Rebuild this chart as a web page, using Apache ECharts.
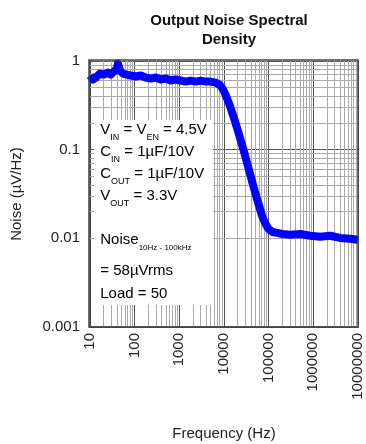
<!DOCTYPE html>
<html><head><meta charset="utf-8">
<script src="https://cdn.jsdelivr.net/npm/echarts@6/dist/echarts.min.js"></script>
<style>html,body{margin:0;padding:0;background:#fff}#c{width:366px;height:444px}</style>
</head><body><div id="c"></div>
<script>
const freqHz = [10,11.7,13.6,16.7,20.5,25.2,29.4,34.3,40,42.1,46.7,54.5,66.8,82.2,106,137,177,230,297,384,496,641,829,1072,1384,1790,2313,2991,3870,5000,6470,7940,9270,10800,13300,16300,21100,27200,35200,43300,53100,61900,72300,84400,98400,121000,156000,202000,305000,509000,851000,1420000,2380000,3970000,6640000,10000000];
const noiseUVrtHz = [0.686,0.618,0.651,0.722,0.703,0.741,0.703,0.761,0.823,0.937,0.781,0.722,0.703,0.686,0.668,0.686,0.651,0.634,0.651,0.618,0.634,0.602,0.618,0.602,0.586,0.602,0.586,0.602,0.586,0.586,0.571,0.542,0.489,0.418,0.322,0.236,0.156,0.100,0.0626,0.0424,0.0294,0.0227,0.0175,0.0146,0.0128,0.0118,0.0115,0.0112,0.0110,0.0112,0.0107,0.0104,0.0107,0.0101,0.00987,0.00963];
const xTickLabels = ['10','100','1000','10000','100000','1000000','10000000'];
const yTickLabels = ['0.001','0.01','0.1','1'];
const xMinorGrid = [20,30,40,50,60,70,80,90,200,300,400,500,600,700,800,900,2000,3000,4000,5000,6000,7000,8000,9000,20000,30000,40000,50000,60000,70000,80000,90000,200000,300000,400000,500000,600000,700000,800000,900000,2000000,3000000,4000000,5000000,6000000,7000000,8000000,9000000];
const yMinorGrid = [0.002,0.003,0.004,0.005,0.006,0.007,0.008,0.009,0.02,0.03,0.04,0.05,0.06,0.07,0.08,0.09,0.2,0.3,0.4,0.5,0.6,0.7,0.8,0.9];

const chart = echarts.init(document.getElementById('c'));
const FONT = 'Liberation Sans, Arial, sans-serif';
const N = {fontSize:15, fontFamily:FONT, color:'#111', verticalAlign:'top', lineHeight:16};
const S = {fontSize:9, fontFamily:FONT, color:'#333', verticalAlign:'bottom', lineHeight:15};
const S2 = {fontSize:8, fontFamily:FONT, color:'#777', verticalAlign:'bottom', lineHeight:15};
const H = {fontSize:1, lineHeight:20, verticalAlign:'top'};
function txt(y, s){ return {type:'text', left:100, top:y, z:101, style:{text:'{h| }'+s, rich:{n:N,s:S,t:S2,h:H}, font:'15px '+FONT}}; }
chart.setOption({
  animation:false,
  title:{text:'Output Noise Spectral\nDensity', left:224, top:6, textAlign:'center',
    textStyle:{fontSize:15, fontWeight:'bold', fontFamily:FONT, color:'#111', lineHeight:19}},
  grid:{left:90, right:8, top:61, bottom:117, outerBoundsMode:'none', containLabel:false},
  xAxis:{type:'log', logBase:10, min:10, max:10000000,
    name:'Frequency (Hz)', nameLocation:'middle', nameGap:99,
    nameTextStyle:{fontSize:15, fontFamily:FONT, color:'#222'},
    axisLine:{show:true, lineStyle:{color:'#444', width:1.5}},
    axisTick:{show:false},
    axisLabel:{rotate:90, margin:6, fontSize:15, fontFamily:FONT, color:'#222',
      formatter:v=>xTickLabels[Math.round(Math.log10(v))-1]},
    splitLine:{show:true, lineStyle:{color:'#555', width:1}}},
  yAxis:{type:'log', logBase:10, min:0.001, max:1,
    name:'Noise (µV/Hz)', nameLocation:'middle', nameGap:66,
    nameTextStyle:{fontSize:15, fontFamily:FONT, color:'#222'},
    axisLine:{show:true, lineStyle:{color:'#444', width:1.5}},
    axisTick:{show:false},
    axisLabel:{margin:10, fontSize:15, fontFamily:FONT, color:'#222',
      formatter:v=>yTickLabels[Math.round(Math.log10(v))+3]},
    splitLine:{show:true, lineStyle:{color:'#555', width:1}}},
  graphic:[
    {type:'rect', shape:{x:89, y:60, width:269, height:267}, style:{fill:'none', stroke:'#444', lineWidth:1.5}, z:102, silent:true},
    {type:'rect', shape:{x:94, y:120, width:119, height:185}, style:{fill:'#fff'}, z:100, silent:true},
    txt(122, '{n|V}{s|IN}{n| = V}{s|EN}{n| = 4.5V}'),
    txt(144, '{n|C}{s|IN}{n| = 1µF/10V}'),
    txt(166, '{n|C}{s|OUT}{n| = 1µF/10V}'),
    txt(188, '{n|V}{s|OUT}{n| = 3.3V}'),
    txt(232, '{n|Noise}{t|10Hz - 100kHz}'),
    txt(263, '{n|= 58µVrms}'),
    txt(286, '{n|Load = 50}')
  ],
  series:[
    {type:'line', data:[], silent:true, z:1,
      markLine:{silent:true, symbol:'none', label:{show:false}, animation:false,
        lineStyle:{color:'#aaa', width:1, type:'solid'},
        data:xMinorGrid.map(v=>({xAxis:v})).concat(yMinorGrid.map(v=>({yAxis:v})))}},
    {type:'line', data:freqHz.map((f,i)=>[f,noiseUVrtHz[i]]), showSymbol:false, z:5,
      lineStyle:{color:'#0000ff', width:8, join:'round', cap:'butt'}, itemStyle:{color:'#0000ff'}}
  ]
});
</script></body></html>
